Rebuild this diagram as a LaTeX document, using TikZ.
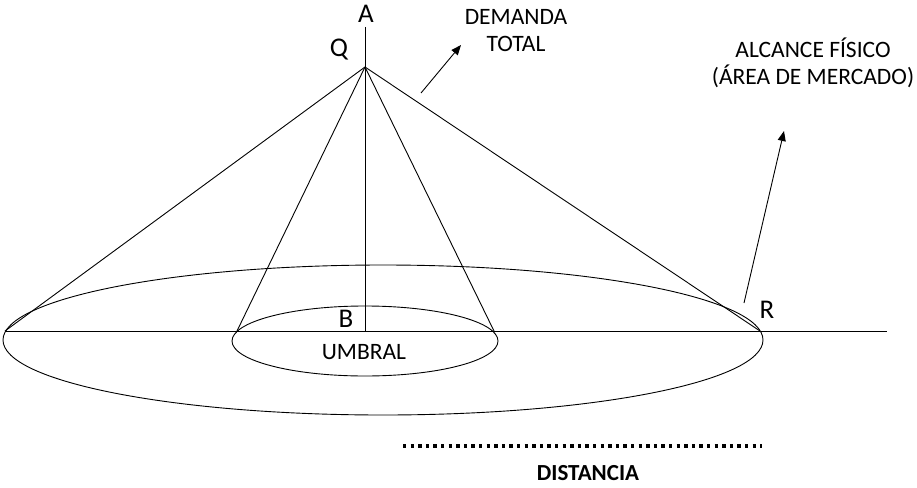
\documentclass[tikz,border=0pt]{standalone}
\usepackage{fontspec}
\setmainfont{Carlito}
\usetikzlibrary{arrows.meta, positioning}

\begin{document}
\begin{tikzpicture}[
    x=1pt, y=-1pt,
    every node/.style={inner sep=0pt, font=\fontsize{23.5}{27}\selectfont},
    pt/.style={font=\fontsize{27}{30}\selectfont},
    lbl/.style={align=center},
    ln/.style={line width=0.9pt},
    arr/.style={-{Triangle[length=10pt, width=8pt]}, line width=0.9pt},
    dots/.style={line width=3.3pt, dash pattern=on 3.3pt off 4.3pt}
]
    \useasboundingbox (0,0) rectangle (917,487);

    % axis and base
    \coordinate (top) at (365,27);
    \coordinate (Qp) at (365,67);
    \coordinate (Bp) at (365,331);
    \coordinate (left) at (5,331);
    \coordinate (right) at (887,331);
    \coordinate (sl) at (237,331);
    \coordinate (sr) at (494,331);
    \coordinate (rr) at (760,331);

    \draw[ln] (top) -- (Bp);
    \draw[ln] (left) -- (right);

    % ellipses
    \draw[ln] (383,340) ellipse [x radius=380, y radius=75];
    \draw[ln] (365,341) ellipse [x radius=133, y radius=35];

    % cones
    \draw[ln] (Qp) -- (left);
    \draw[ln] (Qp) -- (rr);
    \draw[ln] (Qp) -- (sl);
    \draw[ln] (Qp) -- (sr);

    % labels
    \node (A) [pt] at (366,14) {A};
    \node (Q) [pt] at (339,50) {Q};
    \node (B) [pt] at (346,319) {B};
    \node (R) [pt] at (767,310) {R};
    \node (umbral) at (364,352) {UMBRAL};
    \node (dem) [lbl] at (516,31) {DEMANDA\\TOTAL};
    \node (alc) [lbl] at (813,63) {ALCANCE FÍSICO\\(ÁREA DE MERCADO)};
    \node (dist) [font=\fontsize{23}{27}\selectfont\bfseries] at (588,473) {DISTANCIA};

    % arrows
    \coordinate (d0) at (421,93);
    \coordinate (d1) at (461,45);
    \coordinate (a0) at (744,303);
    \coordinate (a1) at (784,131);
    \draw[arr] (d0) -- (d1);
    \draw[arr] (a0) -- (a1);

    % distance
    \coordinate (x0) at (403,446);
    \coordinate (x1) at (762,446);
    \draw[dots] (x0) -- (x1);
\end{tikzpicture}
\end{document}
